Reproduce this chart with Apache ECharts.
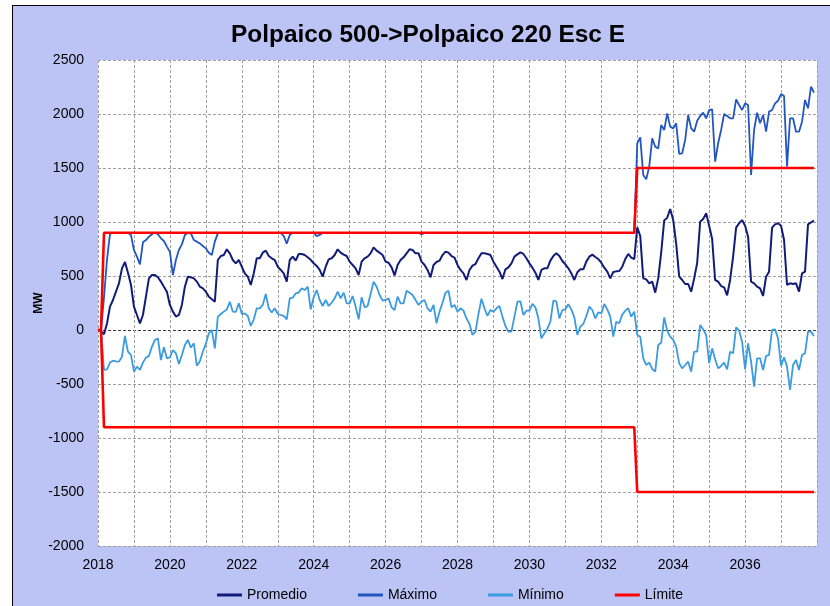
<!DOCTYPE html>
<html>
<head>
<meta charset="utf-8">
<script src="https://cdn.jsdelivr.net/npm/echarts@6/dist/echarts.min.js"></script>
<style>
html,body{margin:0;padding:0;background:#fff;width:830px;height:606px;overflow:hidden;}
#frame{position:absolute;left:12px;top:5px;width:830px;height:610px;background:#BCC3F5;border-left:1px solid #000;border-top:1px solid #000;}
#c{position:absolute;left:0;top:0;width:830px;height:606px;}
</style>
</head>
<body>
<div id="frame"></div>
<div id="c"></div>
<script>
// Monthly categories 2018-01 .. 2038-01
var months = [];
for (var y = 2018; y <= 2038; y++) {
  for (var m = 1; m <= 12; m++) {
    if (y === 2038 && m > 1) break;
    months.push(y + '-' + (m < 10 ? '0' + m : '' + m));
  }
}
var yTicks = [-2000, -1500, -1000, -500, 0, 500, 1000, 1500, 2000, 2500];

var promedio = [0,-10,-40,60,216,278,355,432,570,630,530,420,
216,139,62,139,309,478,509,509,488,448,401,355,
232,170,124,139,232,401,494,488,478,448,401,386,
355,309,284,262,648,685,694,747,710,648,617,648,
586,525,494,417,525,664,664,716,735,685,664,648,
586,556,525,448,648,679,642,704,704,694,673,650,
617,593,556,494,586,654,664,694,747,716,698,685,
633,602,571,509,633,664,679,710,765,735,716,694,
633,623,580,506,602,648,673,710,747,741,710,710,
633,602,556,488,602,630,642,694,725,716,685,670,
602,556,525,463,556,596,611,664,710,710,704,694,
633,586,540,472,562,580,617,679,700,719,704,664,
617,577,531,463,556,571,571,642,685,710,685,639,
608,571,525,463,534,562,562,633,679,698,676,657,
623,577,540,478,537,543,546,586,657,704,670,657,
950,870,478,469,432,448,346,478,720,1015,1040,1120,
1018,800,494,463,426,426,355,478,620,1003,1028,1080,
966,843,463,448,407,395,321,463,680,948,988,1018,
966,864,448,432,401,386,315,494,540,948,978,988,
966,833,417,432,426,432,355,525,540,978,997,1012];

var maximo = [0,0,300,650,890,900,900,900,900,900,900,880,
741,679,608,812,833,864,886,900,886,849,824,772,
725,509,648,741,793,880,900,895,833,818,802,778,
756,716,694,818,895,900,900,900,900,900,900,900,
900,900,900,900,900,900,900,900,900,900,900,900,
900,900,870,800,880,900,900,900,900,900,900,900,
900,870,880,900,900,900,900,900,900,900,900,900,
900,900,900,900,900,900,900,900,900,900,900,900,
900,900,900,900,900,900,900,900,900,900,900,900,
885,900,900,900,900,900,900,900,900,900,900,900,
900,900,900,900,900,900,900,900,900,900,900,900,
900,900,900,900,900,900,900,900,900,900,900,900,
900,900,900,900,900,900,900,900,900,900,900,900,
900,900,900,900,900,900,900,900,900,900,900,900,
900,900,900,900,900,900,900,900,900,900,900,900,
1729,1784,1435,1395,1513,1775,1697,1682,1898,1852,2006,1883,
1867,1914,1630,1636,1760,1991,1867,1836,1938,1981,2012,1960,
2037,2043,1559,1729,1852,2000,1981,1960,1960,2136,2083,2037,
2099,2083,1435,1852,2012,1914,1991,1836,2022,2037,2099,2123,
2185,2166,1512,1960,1960,1836,1836,1929,2130,2053,2253,2197];

var minimo = [0,0,-370,-364,-302,-284,-290,-293,-247,-55,-201,-231,
-386,-339,-370,-302,-256,-241,-154,-92,-77,-278,-160,-262,
-253,-185,-216,-315,-231,-139,-92,-163,-123,-330,-290,-201,
-129,-31,0,-170,124,148,170,191,262,170,167,247,
148,154,130,37,99,201,201,232,333,201,161,201,
148,139,130,99,293,299,340,346,386,370,401,190,
303,370,278,222,278,222,253,293,355,293,346,247,
247,315,216,99,303,210,222,333,448,401,324,272,
278,293,210,185,309,247,247,364,346,324,278,232,
262,278,201,170,232,62,170,253,346,364,210,232,
170,201,179,108,56,-46,-15,148,290,201,130,185,
170,201,222,124,37,-15,-15,124,262,265,139,179,
179,241,210,108,-77,-31,12,77,272,266,108,185,
191,238,191,117,-46,31,56,130,216,185,108,164,
154,241,191,124,-62,77,62,142,179,201,124,170,
-46,-62,-262,-324,-302,-361,-386,-139,-117,117,-6,-62,
-92,-154,-308,-355,-324,-293,-386,-201,-201,46,6,-46,
-308,-170,-271,-355,-333,-302,-364,-201,-216,25,-6,-108,
-364,-123,-293,-525,-262,-262,-370,-241,-231,0,6,-77,
-333,-253,-339,-555,-324,-278,-370,-231,-216,-15,-15,-55];

var limiteSup = [['2018-01',0],['2018-02',0],['2018-03',900],['2032-12',900],['2033-01',1500],['2037-12',1500]];
var limiteInf = [['2018-01',0],['2018-02',0],['2018-03',-900],['2032-12',-900],['2033-01',-1500],['2037-12',-1500]];

var FONT = 'Liberation Sans, Arial, sans-serif';
var chart = echarts.init(document.getElementById('c'), null, {renderer: 'canvas'});
var gridColors = yTicks.map(function (v) { return v === 0 ? '#3a3a3a' : '#a0a0a0'; });

chart.setOption({
  animation: false,
  backgroundColor: 'transparent',
  textStyle: {fontFamily: FONT},
  title: {
    text: 'Polpaico 500->Polpaico 220 Esc E',
    left: 423, top: 18, textAlign: 'center',
    textStyle: {fontFamily: FONT, fontSize: 24.4, fontWeight: 'bold', color: '#000'}
  },
  legend: {
    left: 212, top: 583, itemGap: 51, itemWidth: 25, itemHeight: 3, icon: 'rect',
    textStyle: {fontFamily: FONT, fontSize: 14, color: '#000'},
    data: ['Promedio', 'Máximo', 'Mínimo', 'Límite']
  },
  grid: {left: 98, right: 13, top: 60, bottom: 60, show: true, backgroundColor: '#fff', borderWidth: 0},
  xAxis: {
    type: 'category', data: months, boundaryGap: false,
    axisLine: {show: false}, axisTick: {show: false},
    axisLabel: {
      interval: function (i) { return i % 24 === 0 && i < months.length - 1; },
      formatter: function (v) { return v.slice(0, 4); },
      fontFamily: FONT, fontSize: 14, color: '#000', margin: 12
    },
    splitLine: {show: true, interval: function (i) { return i % 12 === 0; },
      lineStyle: {color: '#a0a0a0', type: [3, 2], width: 1}}
  },
  yAxis: {
    type: 'value', min: yTicks[0], max: yTicks[yTicks.length - 1], interval: 500,
    name: 'MW', nameLocation: 'middle', nameGap: 53, nameRotate: 90, nameMoveOverlap: false,
    nameTextStyle: {fontFamily: FONT, fontSize: 12, fontWeight: 'bold', color: '#000'},
    axisLine: {show: false}, axisTick: {show: false},
    axisLabel: {fontFamily: FONT, fontSize: 14, color: '#000', margin: 14,
      formatter: function (v) { return String(v); }},
    splitLine: {show: true, lineStyle: {color: gridColors, type: [3, 2], width: 1}}
  },
  series: [
    {name: 'Promedio', type: 'line', data: promedio, symbol: 'none', color: '#121C78',
      lineStyle: {width: 2, color: '#121C78'}},
    {name: 'Máximo', type: 'line', data: maximo, symbol: 'none', color: '#2356BE',
      lineStyle: {width: 1.8, color: '#2356BE'}},
    {name: 'Mínimo', type: 'line', data: minimo, symbol: 'none', color: '#3B9BE0',
      lineStyle: {width: 1.8, color: '#3B9BE0'}},
    {name: 'Límite', type: 'line', data: limiteSup, symbol: 'none', color: '#FF0000',
      lineStyle: {width: 2.6, color: '#FF0000'}},
    {name: 'Límite', type: 'line', data: limiteInf, symbol: 'none', color: '#FF0000',
      lineStyle: {width: 2.6, color: '#FF0000'}}
  ]
});
</script>
</body>
</html>
